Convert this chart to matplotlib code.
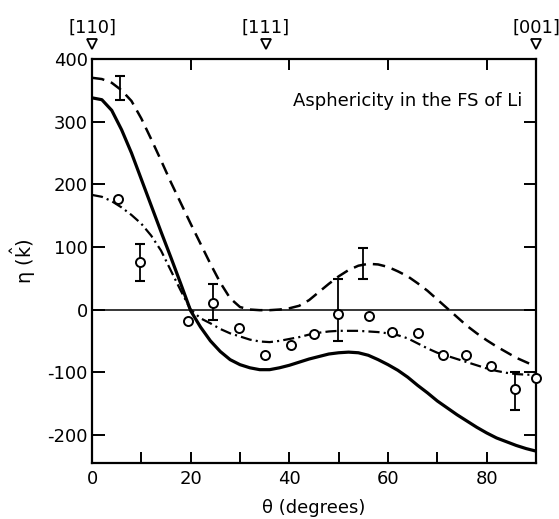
import matplotlib
matplotlib.use("Agg")
import matplotlib.pyplot as plt
import matplotlib.transforms as mtransforms

plt.rcParams['font.family'] = ['DejaVu Sans']
plt.rcParams['axes.unicode_minus'] = False
plt.rcParams['lines.scale_dashes'] = False

# ---- data ----
theta_curve = [0, 2, 4, 6, 8, 10, 12, 14, 16, 18, 20, 22, 24, 26, 28, 30, 32, 34, 36, 38,
               40, 42, 44, 46, 48, 50, 52, 54, 56, 58, 60, 62, 64, 66, 68, 70, 72, 74, 76,
               78, 80, 82, 84, 86, 88, 90]
solid_vals = [338, 335, 318, 287, 250, 208, 166, 124, 83, 41, -2, -28, -50, -67, -80, -88,
              -93, -96, -96, -93, -89, -84, -79, -75, -71, -69, -68, -69, -73, -80, -88,
              -97, -108, -121, -133, -146, -157, -168, -178, -188, -197, -205, -211, -217,
              -222, -226]
dashed_vals = [370, 368, 362, 350, 333, 305, 272, 238, 203, 170, 137, 105, 73, 43, 18, 4,
               0, -1, -1, 0, 2, 6, 15, 28, 41, 53, 63, 70, 73, 72, 68, 61, 53, 42, 30, 16,
               2, -12, -26, -38, -49, -59, -68, -77, -84, -91]
dashdot_vals = [183, 180, 173, 163, 151, 137, 118, 94, 62, 30, 0, -14, -22, -31, -38, -43,
                -48, -51, -52, -50, -47, -44, -40, -37, -35, -34, -34, -34, -35, -36, -38,
                -41, -46, -54, -62, -69, -74, -79, -84, -89, -94, -98, -101, -103, -104,
                -104]

theta_pts = [5.3, 9.7, 19.5, 24.6, 29.8, 35.0, 40.3, 45.0, 49.8, 56.2, 60.9, 66.1, 71.1,
             75.9, 80.9, 85.8, 90.0]
eta_pts = [177, 76, -19, 10, -30, -72, -57, -39, -7, -10, -36, -37, -73, -72, -90, -127, -110]

err_theta = [5.7, 9.7, 24.6, 49.8, 55.0, 85.8]
err_low = [335, 46, -17, -50, 48, -160]
err_high = [373, 104, 40, 48, 98, -100]

dir_theta = [0.0, 35.26, 90.0]
dir_labels = ['[110]', '[111]', '[001]']

# ---- figure ----
fig = plt.figure(figsize=(5.59, 5.19), dpi=100)
ax = fig.add_axes([92/559, 1-463/519, (536-92)/559, (463-59)/519])

ax.axhline(0, color='black', lw=1.1, zorder=1)
ax.plot(theta_curve, solid_vals, color='black', lw=2.3, solid_capstyle='round')
ax.plot(theta_curve, dashed_vals, color='black', lw=1.8, linestyle=(0, (9, 5)))
ax.plot(theta_curve, dashdot_vals, color='black', lw=1.6,
        linestyle=(0, (8, 3, 1.5, 3)))

ax.plot(theta_pts, eta_pts, linestyle='none', marker='o', ms=6.5, mfc='white',
        mec='black', mew=1.4, zorder=5, clip_on=False)

for t, lo, hi in zip(err_theta, err_low, err_high):
    ax.plot([t, t], [lo, hi], color='black', lw=1.3, zorder=4)
    ax.plot([t], [lo], marker='_', ms=7, mew=1.5, color='black', zorder=4)
    ax.plot([t], [hi], marker='_', ms=7, mew=1.5, color='black', zorder=4)

ax.set_xlim(0, 90)
ax.set_ylim(-245, 400)
ax.set_xticks([0, 20, 40, 60, 80])
ax.set_xticks([10, 30, 50, 70], minor=True)
ax.set_yticks([-200, -100, 0, 100, 200, 300, 400])
ax.set_yticklabels(['-200', '-100', '0', '100', '200', '300', '400'])

ax.tick_params(axis='both', which='both', direction='in', labelsize=13, width=1.4,
               top=True, right=True)
ax.tick_params(axis='y', which='major', length=9, pad=3)
ax.tick_params(axis='x', which='major', length=8, pad=5)
ax.tick_params(axis='x', which='minor', length=8, top=False)

for s in ax.spines.values():
    s.set_linewidth(1.6)

ax.set_xlabel('θ (degrees)', fontsize=13, labelpad=8)
ax.set_ylabel(r'$\mathregular{\eta\ (\hat{k})}$', fontsize=14, labelpad=7)

ax.text(0.97, 0.895, 'Asphericity in the FS of Li', transform=ax.transAxes,
        ha='right', va='center', fontsize=13)

trans = mtransforms.blended_transform_factory(ax.transData, ax.transAxes)
for t, lab in zip(dir_theta, dir_labels):
    ax.plot([t], [1.037], marker='v', ms=7, mfc='white', mec='black', mew=1.3,
            transform=trans, clip_on=False)
    ax.text(t, 1.077, lab, transform=trans, ha='center', va='center', fontsize=13)

fig.savefig('out.png', dpi=100)
